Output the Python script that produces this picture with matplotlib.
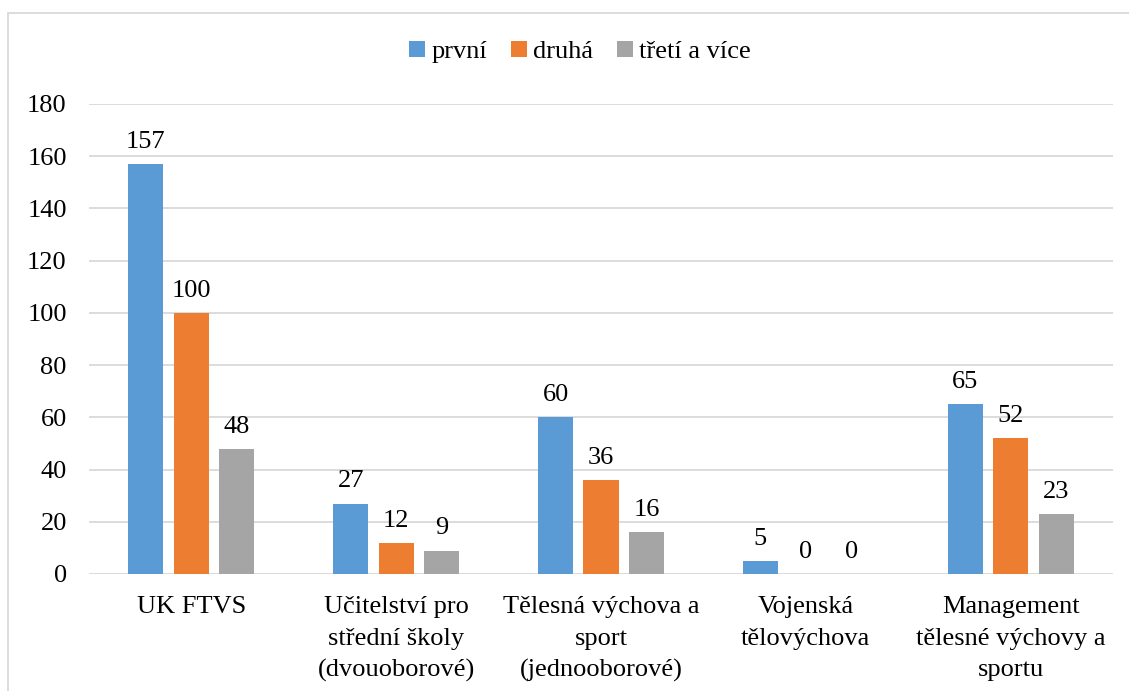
import numpy as np
import matplotlib.pyplot as plt
from matplotlib.patches import Rectangle

# data
categories = ["UK FTVS",
              "Učitelství pro\nstřední školy\n(dvouoborové)",
              "Tělesná výchova a\nsport\n(jednooborové)",
              "Vojenská\ntělovýchova",
              "Management\ntělesné výchovy a\nsportu"]
prvni = [157, 27, 60, 5, 65]
druha = [100, 12, 36, 0, 52]
treti = [48, 9, 16, 0, 23]
series_names = ["první", "druhá", "třetí a více"]
colors = ["#5B9BD5", "#ED7D31", "#A5A5A5"]

plt.rcParams['font.family'] = ['Liberation Serif', 'DejaVu Serif']
FS = 19

fig = plt.figure(figsize=(11.29, 6.91), dpi=100)
ax = fig.add_axes([89/1129, 1 - 574/691, (1113 - 89)/1129, (574 - 104)/691])

x = np.arange(len(categories))
w = 0.171
step = 0.222
for i, (vals, name, col) in enumerate(zip([prvni, druha, treti], series_names, colors)):
    bars = ax.bar(x + (i - 1) * step, vals, width=w, color=col, label=name, zorder=3)
    ax.bar_label(bars, padding=8, fontsize=FS)

ax.set_xlim(-0.5, len(categories) - 0.5)
ax.set_ylim(0, 180)
ax.set_yticks(np.arange(0, 181, 20))
ax.set_xticks(x)
ax.set_xticklabels(categories, fontsize=FS, linespacing=1.55)
ax.tick_params(axis='both', length=0, labelsize=FS)
ax.tick_params(axis='y', pad=16)
ax.tick_params(axis='x', pad=16)
ax.grid(axis='y', color='#D9D9D9', linewidth=1.3, zorder=0)
for s in ax.spines.values():
    s.set_visible(False)

fig.legend(loc='center', bbox_to_anchor=(580/1129, 1 - 52/691), ncol=3, frameon=False,
           fontsize=FS, handlelength=0.6, handleheight=0.6, handletextpad=0.25,
           columnspacing=0.9)

# outer chart border
fig.patches.append(Rectangle((8/1129, -0.05), 1.1, 1 - 13/691 + 0.05,
                             transform=fig.transFigure, fill=False,
                             edgecolor='#D9D9D9', linewidth=1.3))

fig.savefig("out.png", dpi=100)
